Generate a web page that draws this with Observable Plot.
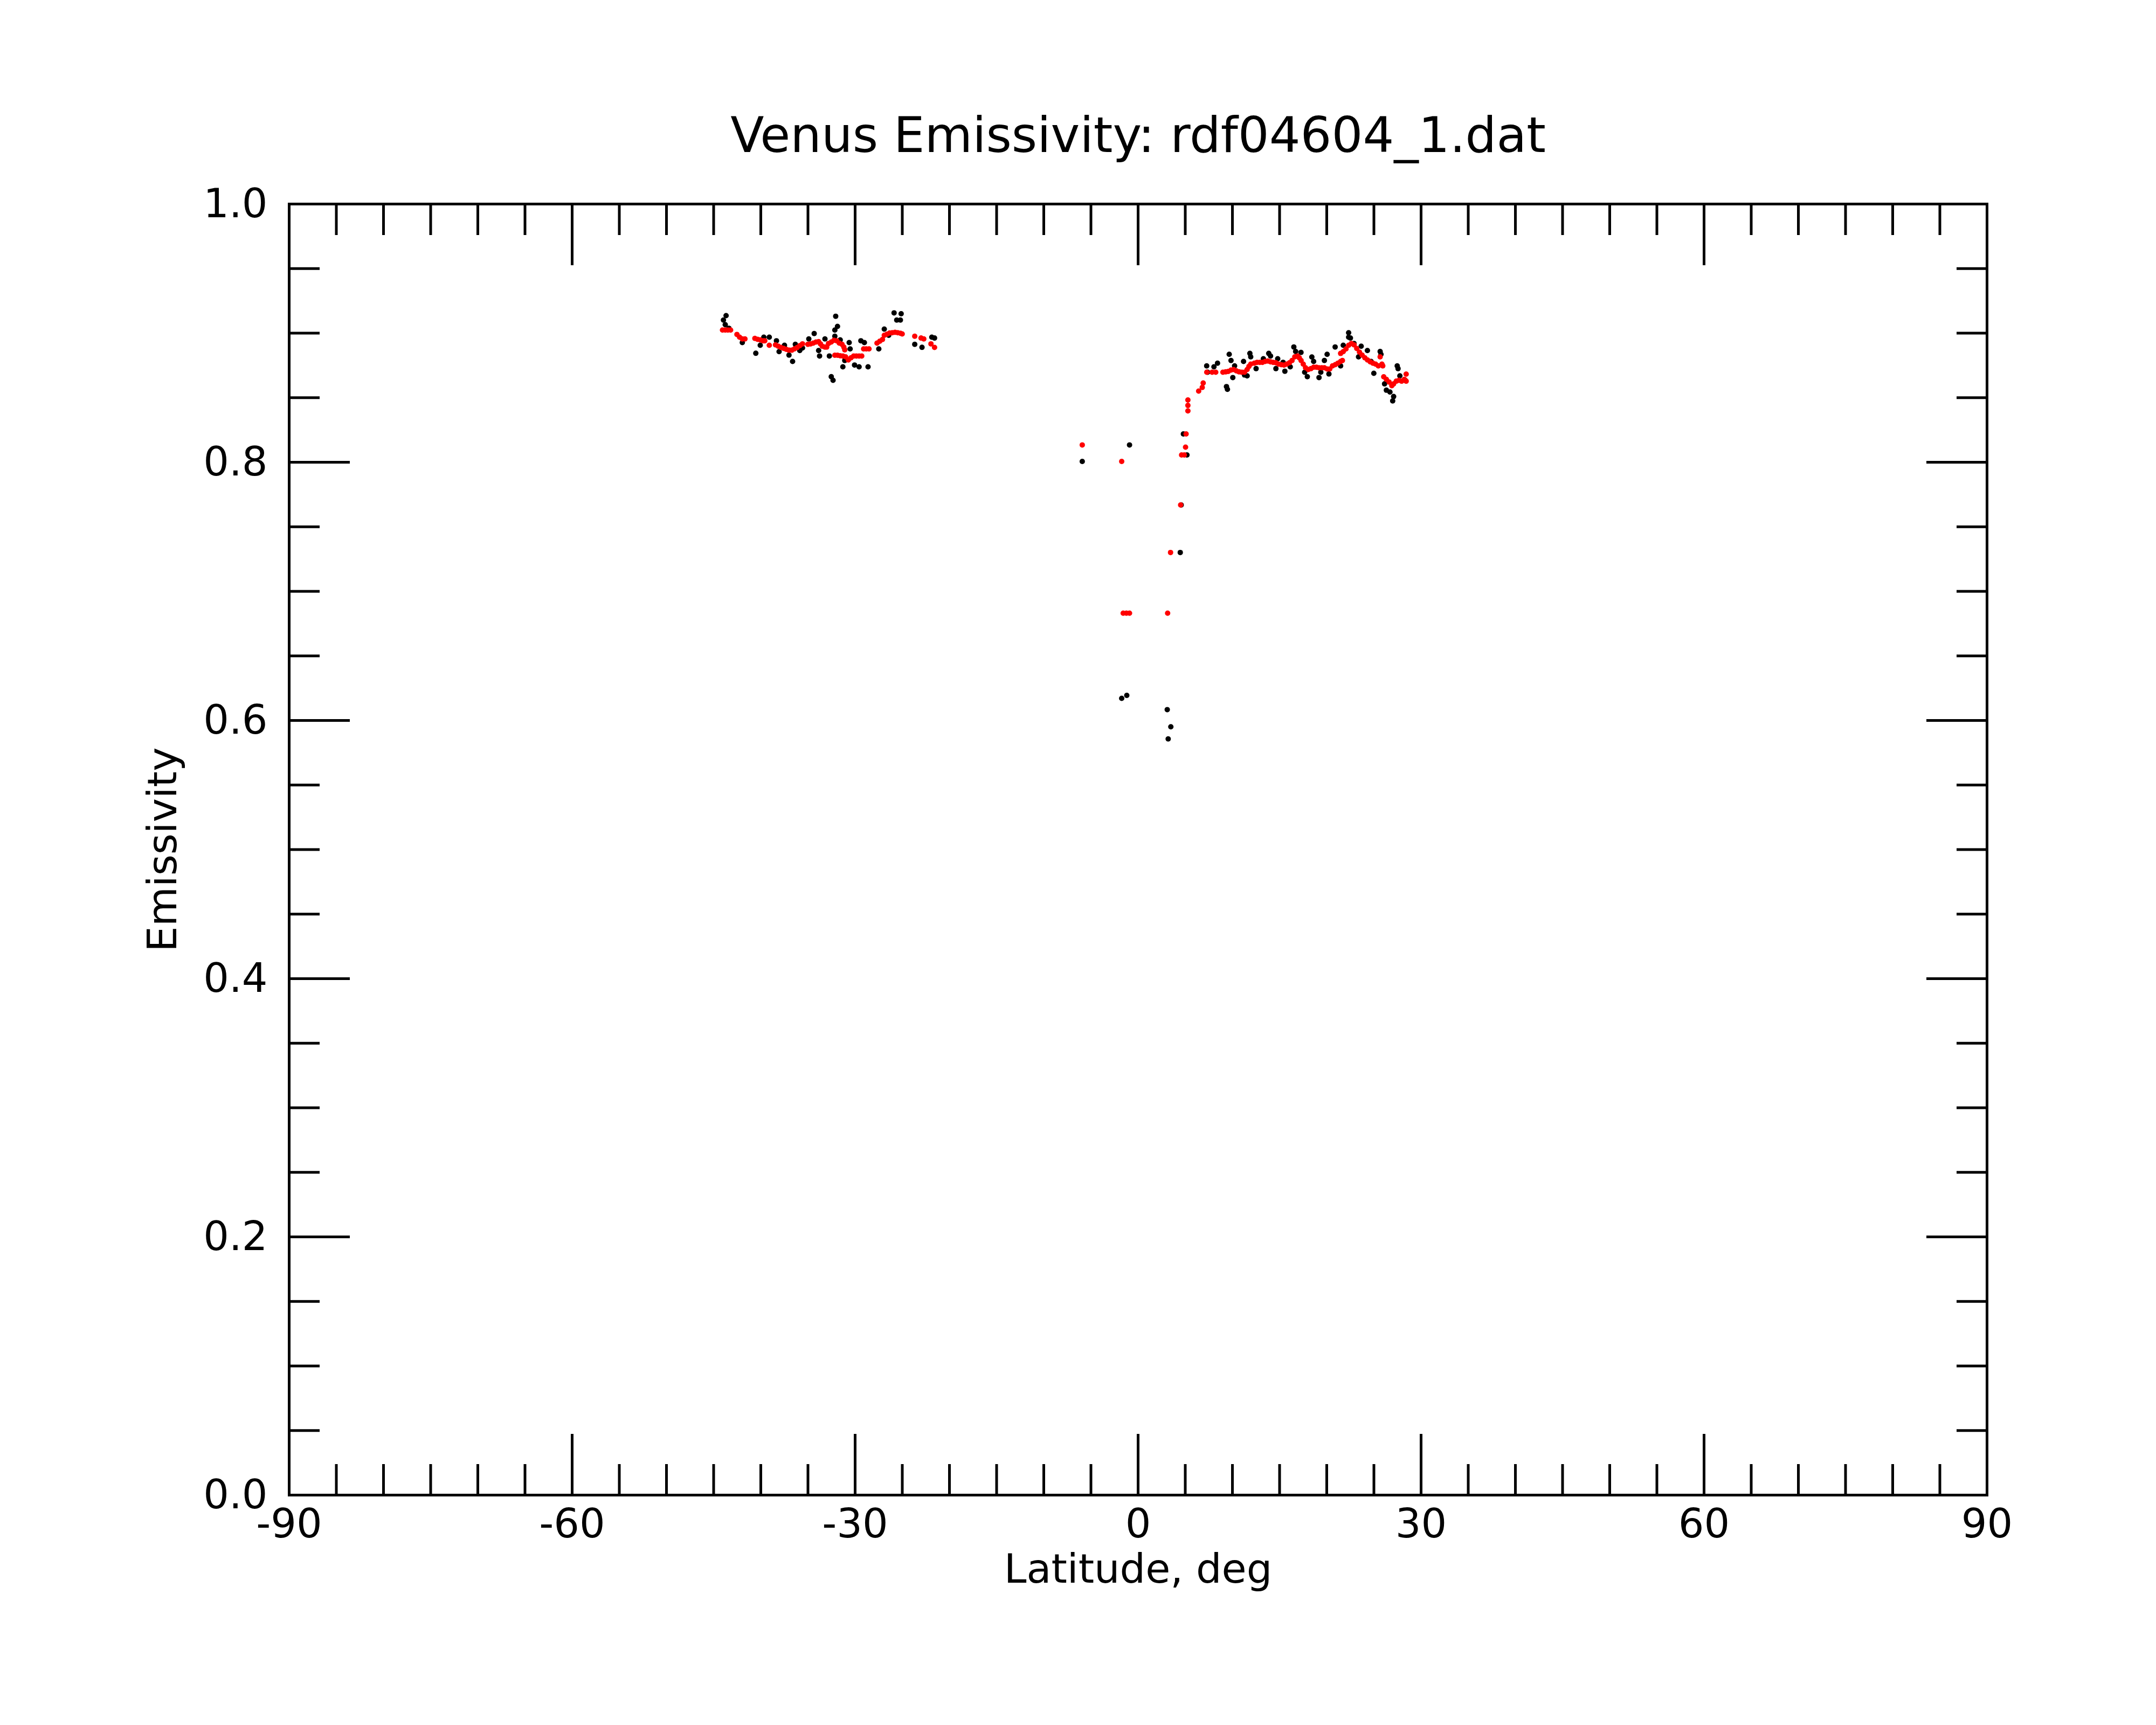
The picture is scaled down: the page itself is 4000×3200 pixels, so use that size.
<!DOCTYPE html>
<html>
<head>
<meta charset="utf-8">
<script src="https://cdn.jsdelivr.net/npm/d3@7"></script>
<script src="https://cdn.jsdelivr.net/npm/@observablehq/plot@0.6"></script>
<style>
  html, body { margin: 0; padding: 0; background: #fff; }
</style>
</head>
<body>
<div id="chart"></div>
<script>
// ---- Data ----
const titleText = "Venus Emissivity: rdf04604_1.dat";
const xLabel = "Latitude, deg";
const yLabel = "Emissivity";

const xMajorTicks = [-90, -60, -30, 0, 30, 60, 90];
const xMinorTicks = d3.range(-90, 91, 5);
const yMajorTicks = [0, 0.2, 0.4, 0.6, 0.8, 1.0];
const yMinorTicks = d3.range(0, 1.0001, 0.05);

// measured points (black)
const measuredLat = [
  -43.68, -43.96, -43.77, -43.39, -41.96, -40.53, -40.06, -39.68, -39.10, -38.34,
  -38.06, -37.49, -37.01, -36.63, -36.34, -35.87, -35.58, -34.91, -34.34, -33.87,
  -33.77, -33.20, -32.73, -32.53, -32.34, -32.06, -31.87, -32.15, -32.15, -31.58,
  -31.30, -31.10, -30.63, -30.53, -30.06, -29.58, -29.39, -29.02, -28.63, -27.49,
  -26.91, -26.44, -25.87, -25.12, -25.59, -25.20, -23.68, -22.91, -21.87, -21.58,
  -5.92, -0.91, 4.80, 5.18, 4.57, 4.47, -1.74, -1.20, 3.09, 3.47, 3.19,
  7.27, 7.37, 8.04, 8.42, 9.37, 9.47, 9.66, 9.85, 10.04, 10.23,
  11.18, 11.28, 11.56, 11.85, 11.94, 12.51, 13.28, 13.85, 14.04, 14.61,
  14.80, 15.37, 15.56, 16.13, 16.51, 16.70, 17.27, 17.66, 17.94, 18.42,
  18.61, 19.18, 19.37, 19.75, 20.04, 20.23, 20.89, 21.47, 21.75, 22.32,
  22.32, 22.51, 22.89, 23.65, 24.31, 23.37, 24.70, 24.99, 25.66, 25.75,
  26.13, 26.32, 26.70, 27.09, 26.99, 27.47, 27.56, 27.75, 28.32
];
const measuredEmis = [
  0.9136, 0.9101, 0.9066, 0.9038, 0.8927, 0.8844, 0.8906, 0.8969, 0.8969, 0.8941,
  0.8857, 0.8906, 0.8830, 0.8781, 0.8913, 0.8865, 0.8885, 0.8955, 0.8997, 0.8865,
  0.8823, 0.8955, 0.8823, 0.8663, 0.8635, 0.9131, 0.9052, 0.9024, 0.8976, 0.8948,
  0.8739, 0.8788, 0.8927, 0.8878, 0.8753, 0.8739, 0.8941, 0.8927, 0.8739, 0.8878,
  0.9031, 0.8983, 0.9157, 0.9150, 0.9101, 0.9101, 0.8913, 0.8890, 0.8969, 0.8962,
  0.8006, 0.8134, 0.8219, 0.8056, 0.7669, 0.7301, 0.6171, 0.6194, 0.6084, 0.5951, 0.5857,
  0.8746, 0.8697, 0.8739, 0.8767, 0.8586, 0.8565, 0.8836, 0.8788, 0.8656, 0.8746,
  0.8781, 0.8676, 0.8669, 0.8843, 0.8816, 0.8725, 0.8802, 0.8843, 0.8823, 0.8725,
  0.8802, 0.8774, 0.8705, 0.8739, 0.8893, 0.8858, 0.8851, 0.8697, 0.8663, 0.8815,
  0.8781, 0.8656, 0.8697, 0.8788, 0.8836, 0.8684, 0.8893, 0.8746, 0.8906, 0.9003,
  0.8969, 0.8962, 0.8920, 0.8899, 0.8865, 0.8816, 0.8781, 0.8689, 0.8858, 0.8836,
  0.8607, 0.8558, 0.8544, 0.8509, 0.8475, 0.8746, 0.8725, 0.8669, 0.8635
];

// smoothed points (red)
const smoothedLat = [
  // southern block
  -44.06, -43.77, -43.49, -43.20,
  -42.53, -42.25, -41.96, -41.68,
  -40.63, -40.34, -40.06, -39.77, -39.58,
  -39.10,
  -38.44, -38.15, -37.87, -37.58, -37.30, -37.01, -36.72, -36.44, -36.15, -35.87, -35.58,
  -35.01, -34.72, -34.44, -34.15, -33.87, -33.68, -33.49, -33.20, -33.01,
  -32.82, -32.53, -32.25, -31.96, -31.68,
  -31.39, -31.20, -31.10,
  -32.15, -31.87, -31.58, -31.30, -31.01, -30.72, -30.44, -30.15, -29.87, -29.58, -29.30,
  -29.10, -28.82, -28.53,
  -27.68, -27.39, -27.10, -26.91, -26.63, -26.34, -26.06, -25.77, -25.49, -25.20, -25.01,
  -23.68, -23.01, -22.72, -21.96, -21.58,
  // equatorial gap
  -5.92, -1.74, 5.09, 5.03, 4.61, 4.90, 4.51, 3.44, -1.58, -1.24, -0.91, 3.13,
  // northern block
  5.28, 5.28, 5.28,
  6.42, 6.80, 6.90,
  7.28, 7.85, 8.23,
  8.99, 9.28, 9.56, 9.85, 10.13, 10.42, 10.71, 10.99, 11.28, 11.56,
  11.75, 11.94, 12.32, 12.61, 12.90, 13.18, 13.47, 13.75, 14.04, 14.32,
  14.61, 14.90, 15.18, 15.47, 15.75, 16.04, 16.32, 16.61, 16.90, 17.09,
  17.28, 17.51, 17.75, 18.04, 18.32, 18.61, 18.90, 19.18, 19.47, 19.75,
  20.04, 20.32, 20.61, 20.90, 21.18, 21.47, 21.66,
  21.47, 21.75, 22.04, 22.32, 22.61, 22.90, 23.18, 23.47, 23.75, 24.04,
  24.32, 24.61, 24.90, 25.18, 25.47, 25.66, 25.85, 25.94,
  26.04, 26.32, 26.61, 26.90, 27.09, 27.37, 27.66, 27.94, 28.23, 28.42, 28.42
];
const smoothedEmis = [
  // southern block
  0.9024, 0.9024, 0.9024, 0.9024,
  0.8990, 0.8969, 0.8955, 0.8955,
  0.8959, 0.8952, 0.8948, 0.8941, 0.8941,
  0.8906,
  0.8909, 0.8899, 0.8889, 0.8882, 0.8875, 0.8868, 0.8868, 0.8878, 0.8888, 0.8903, 0.8917,
  0.8913, 0.8917, 0.8923, 0.8931, 0.8934, 0.8917, 0.8899, 0.8892, 0.8892,
  0.8920, 0.8931, 0.8945, 0.8941, 0.8923,
  0.8913, 0.8892, 0.8871,
  0.8829, 0.8829, 0.8825, 0.8823, 0.8816, 0.8792, 0.8809, 0.8823, 0.8823, 0.8823, 0.8823,
  0.8878, 0.8878, 0.8878,
  0.8923, 0.8937, 0.8951, 0.8983, 0.8992, 0.9001, 0.9003, 0.9006, 0.9003, 0.8999, 0.8994,
  0.8976, 0.8962, 0.8955, 0.8917, 0.8889,
  // equatorial gap
  0.8134, 0.8006, 0.8219, 0.8117, 0.8056, 0.8056, 0.7669, 0.7301, 0.6831, 0.6831, 0.6831, 0.6831,
  // northern block
  0.8482, 0.8440, 0.8398,
  0.8551, 0.8579, 0.8614,
  0.8697, 0.8697, 0.8697,
  0.8697, 0.8700, 0.8704, 0.8714, 0.8718, 0.8708, 0.8700, 0.8697, 0.8697, 0.8718,
  0.8742, 0.8760, 0.8767, 0.8774, 0.8774, 0.8774, 0.8781, 0.8784, 0.8778, 0.8774,
  0.8770, 0.8760, 0.8756, 0.8753, 0.8760, 0.8770, 0.8788, 0.8816, 0.8823, 0.8809,
  0.8788, 0.8760, 0.8732, 0.8718, 0.8725, 0.8736, 0.8736, 0.8732, 0.8732, 0.8732,
  0.8722, 0.8722, 0.8746, 0.8756, 0.8767, 0.8781, 0.8788,
  0.8843, 0.8857, 0.8878, 0.8906, 0.8920, 0.8909, 0.8881, 0.8853, 0.8830, 0.8809,
  0.8792, 0.8778, 0.8767, 0.8760, 0.8746, 0.8816, 0.8760, 0.8746,
  0.8662, 0.8642, 0.8621, 0.8593, 0.8607, 0.8628, 0.8635, 0.8628, 0.8642, 0.8683, 0.8628
];

const fmtX = d => String(d);
const fmtY = d3.format(".1f");
const SW = 5;
const R = 5;

const chart = Plot.plot({
  width: 4000,
  height: 3200,
  marginLeft: 536,
  marginRight: 314,
  marginTop: 378,
  marginBottom: 427,
  x: {domain: [-90, 90]},
  y: {domain: [0, 1]},
  style: {fontFamily: "DejaVu Sans", fontSize: "75px", background: "#fff", color: "#000"},
  marks: [
    // minor ticks (inward, all four sides)
    Plot.axisX(xMinorTicks, {anchor: "bottom", tickSize: -57, strokeWidth: SW, tickFormat: () => "", label: null}),
    Plot.axisX(xMinorTicks, {anchor: "top", tickSize: -57, strokeWidth: SW, tickFormat: () => "", label: null}),
    Plot.axisY(yMinorTicks, {anchor: "left", tickSize: -57, strokeWidth: SW, tickFormat: () => "", label: null}),
    Plot.axisY(yMinorTicks, {anchor: "right", tickSize: -57, strokeWidth: SW, tickFormat: () => "", label: null}),
    // major ticks
    Plot.axisX(xMajorTicks, {anchor: "bottom", tickSize: -113, strokeWidth: SW, tickFormat: () => "", label: null}),
    Plot.axisX(xMajorTicks, {anchor: "top", tickSize: -113, strokeWidth: SW, tickFormat: () => "", label: null}),
    Plot.axisY(yMajorTicks, {anchor: "left", tickSize: -113, strokeWidth: SW, tickFormat: () => "", label: null}),
    Plot.axisY(yMajorTicks, {anchor: "right", tickSize: -113, strokeWidth: SW, tickFormat: () => "", label: null}),
    // tick labels
    Plot.axisX(xMajorTicks, {anchor: "bottom", tickSize: 0, tickPadding: 25, tickFormat: fmtX, label: null}),
    Plot.axisY(yMajorTicks, {anchor: "left", tickSize: 0, tickPadding: 40, tickFormat: fmtY, label: null}),
    // frame
    Plot.frame({stroke: "#000", strokeWidth: SW}),
    // data
    Plot.dot(measuredLat, {x: measuredLat, y: measuredEmis, r: R, fill: "#000"}),
    Plot.dot(smoothedLat, {x: smoothedLat, y: smoothedEmis, r: R, fill: "#ff0000"}),
    // titles
    Plot.text([titleText], {frameAnchor: "top", dy: -126, fontSize: 91, lineAnchor: "middle", textAnchor: "middle", text: d => d}),
    Plot.text([xLabel], {frameAnchor: "bottom", dy: 138, lineAnchor: "middle", textAnchor: "middle", text: d => d}),
    Plot.text([yLabel], {frameAnchor: "left", dx: -234, rotate: -90, lineAnchor: "middle", textAnchor: "middle", text: d => d})
  ]
});
document.getElementById("chart").appendChild(chart);
</script>
</body>
</html>
